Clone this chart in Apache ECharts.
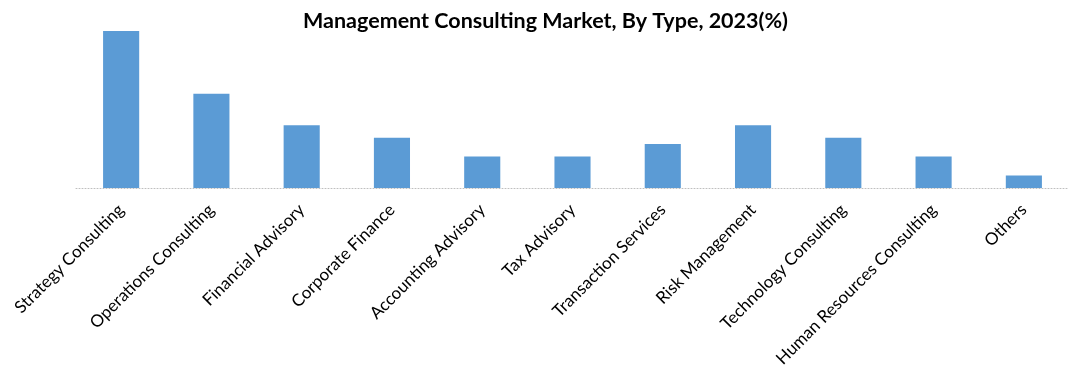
<!DOCTYPE html>
<html><head><meta charset="utf-8">
<script src="https://cdn.jsdelivr.net/npm/echarts@6/dist/echarts.min.js"></script>
<style>html,body{margin:0;padding:0;background:#fff}#c{width:1069px;height:382px}</style>
</head><body><div id="c"></div>
<script>
const categories = ["Strategy Consulting","Operations Consulting","Financial Advisory","Corporate Finance","Accounting Advisory","Tax Advisory","Transaction Services","Risk Management","Technology Consulting","Human Resources Consulting","Others"];
const shares = [25,15,10,8,5,5,7,10,8,5,2];
const chartTitle = "Management Consulting Market, By Type, 2023(%)";
const chart = echarts.init(document.getElementById('c'));
chart.setOption({
  animation:false,
  title:{text:chartTitle,left:298,top:5,textStyle:{fontFamily:'Lato',fontWeight:'bold',fontSize:21.5,color:'#000'}},
  grid:{left:76,right:0,top:31,bottom:194},
  xAxis:{type:'category',data:categories,
    axisLine:{lineStyle:{color:'#bfbfbf',type:[1,2],width:1}},
    axisTick:{show:false},
    axisLabel:{rotate:45,interval:0,margin:19,fontFamily:'Lato',fontSize:17,color:'#000'}},
  yAxis:{type:'value',min:0,max:25,show:false,splitLine:{show:false}},
  series:[{type:'bar',data:shares,barWidth:'40%',itemStyle:{color:'#5B9BD5'}}]
});
</script></body></html>
